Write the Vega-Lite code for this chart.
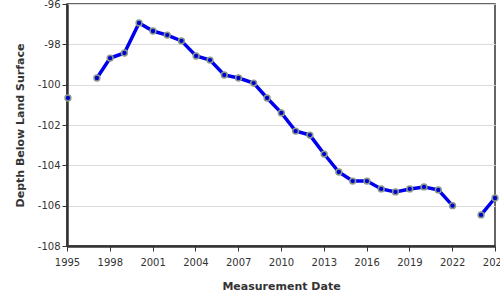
{
  "$schema": "https://vega.github.io/schema/vega-lite/v6.json",
  "width": 428,
  "height": 242,
  "autosize": "none",
  "padding": {"left": 67, "top": 4, "right": 5, "bottom": 54},
  "background": "white",
  "config": {
    "font": "DejaVu Sans",
    "view": {"stroke": "#333", "strokeWidth": 1.5},
    "axis": {
      "labelFont": "DejaVu Sans",
      "labelFontSize": 10,
      "labelColor": "#333",
      "titleFont": "DejaVu Sans",
      "titleFontSize": 11,
      "titleFontWeight": "bold",
      "titleColor": "#333",
      "domainColor": "#333",
      "domainWidth": 2.5,
      "tickColor": "#333",
      "tickSize": 5,
      "gridColor": "#dcdcdc",
      "labelFlush": false,
      "labelBound": false,
      "labelOverlap": false
    }
  },
  "data": {
    "values": [
      {"date": "1995-01-25", "depth": -100.66},
      {"date": "1996-06-01", "depth": null},
      {"date": "1997-02-05", "depth": -99.67},
      {"date": "1998-01-10", "depth": -98.68},
      {"date": "1999-01-10", "depth": -98.43},
      {"date": "2000-01-20", "depth": -96.94},
      {"date": "2001-01-10", "depth": -97.34},
      {"date": "2002-01-10", "depth": -97.54},
      {"date": "2003-01-10", "depth": -97.83},
      {"date": "2004-01-20", "depth": -98.58},
      {"date": "2005-01-10", "depth": -98.78},
      {"date": "2006-01-10", "depth": -99.52},
      {"date": "2007-01-10", "depth": -99.67},
      {"date": "2008-02-01", "depth": -99.92},
      {"date": "2009-01-10", "depth": -100.66},
      {"date": "2010-01-10", "depth": -101.4},
      {"date": "2011-01-10", "depth": -102.3},
      {"date": "2012-01-10", "depth": -102.5},
      {"date": "2013-01-10", "depth": -103.44},
      {"date": "2014-01-20", "depth": -104.33},
      {"date": "2015-01-10", "depth": -104.78},
      {"date": "2016-01-10", "depth": -104.78},
      {"date": "2017-01-10", "depth": -105.17},
      {"date": "2018-01-10", "depth": -105.32},
      {"date": "2019-01-10", "depth": -105.17},
      {"date": "2020-01-10", "depth": -105.07},
      {"date": "2021-01-10", "depth": -105.22},
      {"date": "2022-01-10", "depth": -106.0},
      {"date": "2023-01-10", "depth": null},
      {"date": "2024-01-10", "depth": -106.46},
      {"date": "2025-01-01", "depth": -105.62}
    ]
  },
  "encoding": {
    "x": {
      "field": "date",
      "type": "temporal",
      "title": "Measurement Date",
      "scale": {"domain": ["1995-01-01", "2025-01-01"], "nice": false},
      "axis": {
        "grid": false,
        "format": "%Y",
        "values": ["1995-01-01", "1998-01-01", "2001-01-01", "2004-01-01", "2007-01-01", "2010-01-01", "2013-01-01", "2016-01-01", "2019-01-01", "2022-01-01", "2025-01-01"],
        "labelPadding": 6,
        "titlePadding": 13
      }
    },
    "y": {
      "field": "depth",
      "type": "quantitative",
      "title": "Depth Below Land Surface",
      "scale": {"domain": [-108, -96], "nice": false},
      "axis": {
        "values": [-108, -106, -104, -102, -100, -98, -96],
        "labelExpr": "toString(datum.value)",
        "grid": true,
        "titlePadding": 12
      }
    }
  },
  "layer": [
    {
      "mark": {"type": "line", "color": "#0000ee", "strokeWidth": 3.5, "invalid": "break-paths-show-domains"}
    },
    {
      "mark": {"type": "point", "filled": true, "fill": "#0000cc", "stroke": "#8a9a8a", "strokeWidth": 1.5, "size": 34, "opacity": 1}
    }
  ]
}
